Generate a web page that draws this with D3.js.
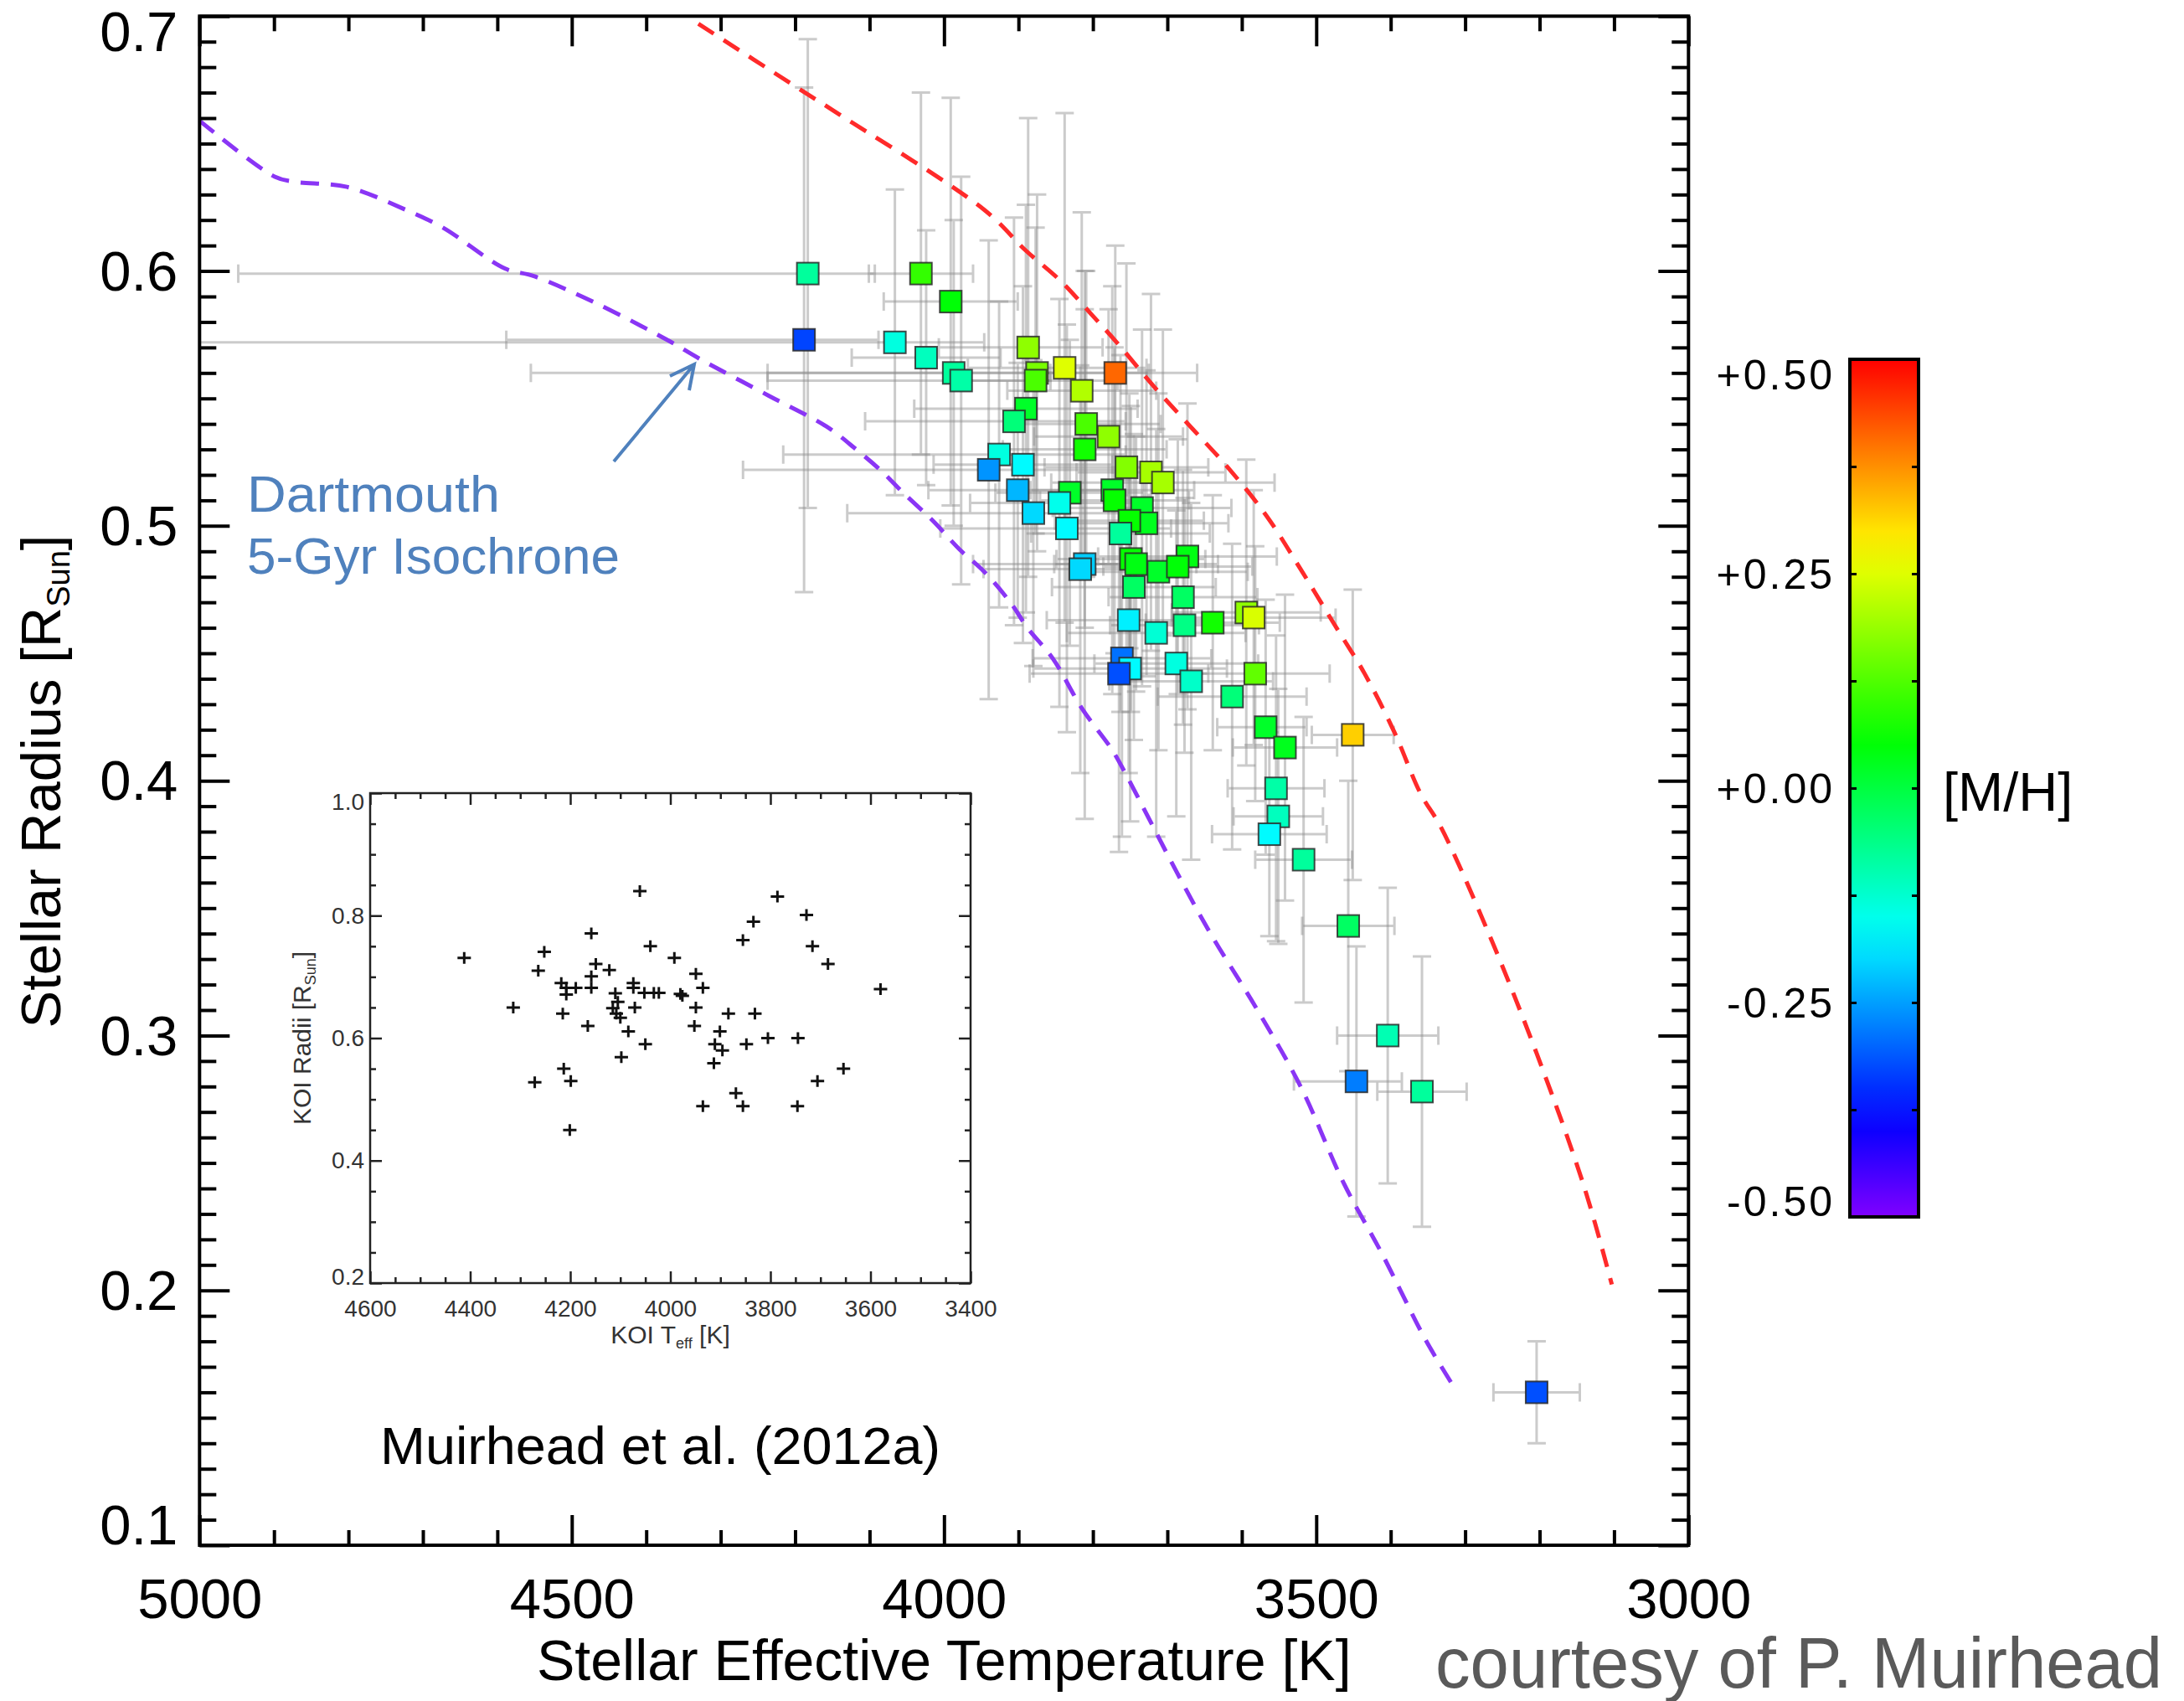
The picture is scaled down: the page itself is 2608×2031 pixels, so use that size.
<!DOCTYPE html>
<html>
<head>
<meta charset="utf-8">
<title>Stellar radius vs effective temperature</title>
<script src="https://cdn.jsdelivr.net/npm/d3@7"></script>
<style>
  body { margin: 0; background: #fff; }
  svg text { font-family: "Liberation Sans", Arial, Helvetica, sans-serif; }
</style>
</head>
<body>
<svg id="chart" width="2608" height="2031"></svg>
<script>
// ---- data ----
const teff = [4183, 4031, 3991, 4188, 4066, 4024, 3987, 3977, 3887, 3875,
              3877, 3838, 3815, 3770, 3890, 3906, 3809, 3779, 3811, 3926,
              3940, 3894, 3755, 3722, 3706, 3901, 3831, 3845, 3774, 3771,
              3880, 3734, 3728, 3751, 3763, 3835, 3811, 3817, 3749, 3742,
              3712, 3673, 3686, 3745, 3679, 3752, 3715, 3677, 3639, 3594,
              3584, 3761, 3750, 3765, 3688, 3668, 3582, 3613, 3568, 3542,
              3451, 3554, 3551, 3563, 3517, 3457, 3404, 3446, 3358, 3204];
const radius = [0.599, 0.599, 0.588, 0.573, 0.572, 0.566, 0.560, 0.557, 0.570, 0.560,
                0.557, 0.562, 0.553, 0.560, 0.546, 0.541, 0.540, 0.535, 0.530, 0.528,
                0.522, 0.524, 0.523, 0.521, 0.517, 0.514, 0.513, 0.509, 0.514, 0.510,
                0.505, 0.507, 0.501, 0.502, 0.497, 0.499, 0.485, 0.483, 0.487, 0.485,
                0.482, 0.488, 0.484, 0.476, 0.472, 0.463, 0.458, 0.461, 0.462, 0.466,
                0.464, 0.448, 0.444, 0.442, 0.446, 0.439, 0.442, 0.433, 0.421, 0.413,
                0.418, 0.397, 0.386, 0.379, 0.369, 0.343, 0.300, 0.282, 0.278, 0.160];
const metal = [-0.08, 0.10, 0.05, -0.33, -0.14, -0.11, -0.08, -0.09, 0.18, 0.16,
               0.12, 0.25, 0.21, 0.41, 0.02, -0.05, 0.12, 0.18, 0.07, -0.14,
               -0.26, -0.17, 0.17, 0.20, 0.20, -0.23, 0.02, -0.15, 0.02, 0.06,
               -0.20, 0.02, 0.03, 0.06, -0.08, -0.17, -0.21, -0.20, 0.06, 0.04,
               0.02, 0.04, 0.05, -0.03, -0.03, -0.18, -0.13, -0.06, 0.07, 0.18,
               0.245, -0.29, -0.17, -0.32, -0.14, -0.12, 0.14, -0.05, 0.02, 0.03,
               0.32, -0.09, -0.11, -0.17, -0.08, -0.03, -0.10, -0.28, -0.08, -0.32];
const teffErrHot = [765, 70, 90, 400, 1000, 100, 250, 260, 120, 680,
                    110, 130, 100, 110, 150, 200, 100, 100, 110, 290,
                    330, 120, 110, 100, 150, 120, 100, 120, 110, 100,
                    250, 120, 110, 100, 120, 170, 150, 130, 100, 110,
                    120, 120, 100, 110, 100, 110, 120, 100, 90, 100,
                    110, 120, 130, 120, 110, 110, 100, 100, 65, 70,
                    55, 65, 60, 77, 65, 62, 68, 84, 60, 58];
const teffErrCool = [90, 70, 90, 100, 120, 100, 130, 120, 100, 150,
                     110, 110, 100, 110, 150, 150, 100, 100, 110, 170,
                     200, 120, 110, 100, 150, 120, 100, 120, 110, 100,
                     150, 120, 110, 100, 120, 140, 150, 130, 100, 110,
                     120, 120, 100, 110, 100, 110, 120, 100, 90, 100,
                     110, 120, 130, 120, 110, 110, 100, 100, 55, 70,
                     55, 65, 60, 77, 65, 62, 68, 61, 60, 58];
const radiusErr = [0.092, 0.071, 0.08, 0.099, 0.06, 0.05, 0.06, 0.08, 0.09, 0.07,
                   0.06, 0.10, 0.07, 0.05, 0.08, 0.08, 0.06, 0.05, 0.07, 0.06,
                   0.09, 0.07, 0.08, 0.07, 0.06, 0.05, 0.06, 0.08, 0.08, 0.06,
                   0.06, 0.07, 0.06, 0.05, 0.07, 0.08, 0.10, 0.08, 0.06, 0.05,
                   0.07, 0.06, 0.05, 0.06, 0.05, 0.06, 0.08, 0.05, 0.05, 0.06,
                   0.05, 0.07, 0.06, 0.07, 0.06, 0.07, 0.05, 0.06, 0.05, 0.06,
                   0.057, 0.06, 0.05, 0.04, 0.056, 0.057, 0.058, 0.053, 0.053, 0.02];

// Dartmouth 5-Gyr isochrones: [M/H] = -0.5 (violet) and +0.5 (red)
const isoPoorTeff = [5000, 4899, 4873, 4802, 4723, 4673, 4590, 4551, 4472, 4372, 4328,
                     4235, 4158, 4118, 4084, 4055, 4015, 3980, 3946, 3911, 3888, 3854,
                     3814, 3774, 3753, 3689, 3643, 3579, 3521, 3463, 3411, 3353, 3316];
const isoPoorRad = [0.659, 0.637, 0.635, 0.633, 0.624, 0.617, 0.601, 0.598, 0.588, 0.573, 0.5655,
                    0.551, 0.539, 0.530, 0.5215, 0.513, 0.502, 0.491, 0.482, 0.470, 0.460, 0.448,
                    0.428, 0.412, 0.401, 0.365, 0.3405, 0.310, 0.280, 0.242, 0.214, 0.1805, 0.1625];
const isoRichTeff = [4330, 4192, 4149, 3946, 3890, 3843, 3802, 3768, 3716, 3666, 3619,
                     3567, 3521, 3475, 3435, 3395, 3360, 3333, 3269, 3204, 3140, 3103];
const isoRichRad = [0.697, 0.671, 0.663, 0.624, 0.608, 0.596, 0.583, 0.572, 0.554, 0.538, 0.523,
                    0.504, 0.483, 0.461, 0.442, 0.419, 0.395, 0.382, 0.3405, 0.293, 0.2405, 0.2023];

// inset: KOI catalogue values
const koiTeff = [4412, 4314, 4271, 4264, 4252, 4218, 4215, 4213, 4208, 4208,
                 4199, 4201, 4189, 4165, 4158, 4158, 4158, 4149, 4122, 4115,
                 4110, 4105, 4108, 4100, 4098, 4084, 4074, 4071, 4074, 4061,
                 4052, 4050, 4040, 4033, 4023, 3992, 3980, 3976, 3949, 3949,
                 3952, 3935, 3935, 3913, 3911, 3901, 3896, 3884, 3869, 3855,
                 3855, 3848, 3834, 3831, 3805, 3786, 3745, 3746, 3728, 3716,
                 3706, 3685, 3654, 3580];
const koiRad = [0.731, 0.650, 0.528, 0.710, 0.741, 0.690, 0.640, 0.550, 0.682, 0.671,
                0.530, 0.450, 0.682, 0.620, 0.771, 0.701, 0.682, 0.721, 0.711, 0.649,
                0.673, 0.659, 0.640, 0.633, 0.569, 0.611, 0.690, 0.650, 0.682, 0.840,
                0.674, 0.590, 0.750, 0.674, 0.674, 0.731, 0.672, 0.669, 0.705, 0.650,
                0.620, 0.682, 0.489, 0.559, 0.590, 0.611, 0.580, 0.640, 0.510, 0.760,
                0.489, 0.590, 0.790, 0.640, 0.600, 0.831, 0.600, 0.489, 0.801, 0.750,
                0.530, 0.721, 0.550, 0.680];

const xMajor = [5000, 4500, 4000, 3500, 3000];
const yMajor = [0.1, 0.2, 0.3, 0.4, 0.5, 0.6, 0.7];
const cbarLabels = [0.5, 0.25, 0.0, -0.25, -0.5];
const cbarTicks = [0.5, 0.375, 0.25, 0.125, 0.0, -0.125, -0.25, -0.375, -0.5];
const insetXMajor = [4600, 4400, 4200, 4000, 3800, 3600, 3400];
const insetYMajor = [0.2, 0.4, 0.6, 0.8, 1.0];

// ---- drawing ----
const svg = d3.select("#chart");
const L = 238.3, R = 2016.3, T = 19.3, B = 1845;

const x = d3.scaleLinear().domain([5000, 3000]).range([L, R]);
const y = d3.scaleLinear().domain([0.1, 0.7]).range([B, T]);
const hue = d3.scaleLinear().domain([-0.5, 0.5]).range([270, 0]);
const metalColor = v => d3.hsl(hue(v), 1, 0.5).formatHex();

const pts = teff.map((t, i) => ({
  t, r: radius[i], m: metal[i],
  th: teffErrHot[i], tc: teffErrCool[i], re: radiusErr[i]
}));

// error bars
const eb = svg.append("g").attr("stroke", "#8c8c8c").attr("stroke-opacity", 0.45)
  .attr("stroke-width", 3).attr("fill", "none");
const cap = 11;
pts.forEach(d => {
  const cx = x(d.t), cy = y(d.r);
  const x0 = x(Math.min(d.t + d.th, 5000)), x1 = x(d.t - d.tc);
  const y0 = y(Math.min(d.r + d.re, 0.7)), y1 = y(d.r - d.re);
  let p = `M${x0},${cy}H${x1}M${x1},${cy - cap}V${cy + cap}M${cx},${y0}V${y1}M${cx - cap},${y1}H${cx + cap}`;
  if (d.t + d.th <= 5000) p += `M${x0},${cy - cap}V${cy + cap}`;
  if (d.r + d.re <= 0.7) p += `M${cx - cap},${y0}H${cx + cap}`;
  eb.append("path").attr("d", p);
});

// isochrones
const line = d3.line().x(d => x(d[0])).y(d => y(d[1])).curve(d3.curveCatmullRom);
svg.append("path").datum(isoPoorTeff.map((t, i) => [t, isoPoorRad[i]]))
  .attr("d", line).attr("fill", "none").attr("stroke", "#8a35f5")
  .attr("stroke-width", 5).attr("stroke-dasharray", "22 14");
svg.append("path").datum(isoRichTeff.map((t, i) => [t, isoRichRad[i]]))
  .attr("d", line).attr("fill", "none").attr("stroke", "#ff2a2a")
  .attr("stroke-width", 5).attr("stroke-dasharray", "22 14");

// squares
const sq = 26;
svg.append("g").selectAll("rect").data(pts).join("rect")
  .attr("x", d => x(d.t) - sq / 2).attr("y", d => y(d.r) - sq / 2)
  .attr("width", sq).attr("height", sq)
  .attr("fill", d => metalColor(d.m))
  .attr("stroke", "#2a2a2a").attr("stroke-width", 2).attr("stroke-opacity", 0.85);

// axes (IDL style: ticks inward on all four sides)
function styleAxis(g) {
  g.select(".domain").remove();
  g.selectAll(".tick line").attr("stroke", "#000").attr("stroke-width", 4);
  g.selectAll("text").attr("fill", "#000").attr("font-size", 67);
}
const xMinor = d3.range(3000, 5001, 100).filter(v => !xMajor.includes(v));
const yMinor = d3.range(10, 71).map(v => v / 100).filter(v => v * 10 % 1 !== 0);

svg.append("g").attr("transform", `translate(0,${B})`)
  .call(d3.axisBottom(x).tickValues(xMajor).tickSize(-36).tickPadding(39).tickFormat(d3.format("d")))
  .call(styleAxis);
svg.append("g").attr("transform", `translate(0,${B})`)
  .call(d3.axisBottom(x).tickValues(xMinor).tickSize(-18).tickFormat("")).call(styleAxis);
svg.append("g").attr("transform", `translate(0,${T})`)
  .call(d3.axisTop(x).tickValues(xMajor).tickSize(-36).tickFormat("")).call(styleAxis);
svg.append("g").attr("transform", `translate(0,${T})`)
  .call(d3.axisTop(x).tickValues(xMinor).tickSize(-18).tickFormat("")).call(styleAxis);

const yAx = svg.append("g").attr("transform", `translate(${L},0)`)
  .call(d3.axisLeft(y).tickValues(yMajor).tickSize(-36).tickPadding(26).tickFormat(d3.format(".1f")))
  .call(styleAxis);
yAx.selectAll(".tick text").attr("dy", d => d === 0.7 ? "0.62em" : d === 0.1 ? "-0.02em" : "0.34em");
svg.append("g").attr("transform", `translate(${L},0)`)
  .call(d3.axisLeft(y).tickValues(yMinor).tickSize(-20).tickFormat("")).call(styleAxis);
svg.append("g").attr("transform", `translate(${R},0)`)
  .call(d3.axisRight(y).tickValues(yMajor).tickSize(-36).tickFormat("")).call(styleAxis);
svg.append("g").attr("transform", `translate(${R},0)`)
  .call(d3.axisRight(y).tickValues(yMinor).tickSize(-20).tickFormat("")).call(styleAxis);

svg.append("rect").attr("x", L).attr("y", T).attr("width", R - L).attr("height", B - T)
  .attr("fill", "none").attr("stroke", "#000").attr("stroke-width", 4);

// axis titles
svg.append("text").attr("x", (L + R) / 2).attr("y", 2006).attr("text-anchor", "middle")
  .attr("font-size", 68).text("Stellar Effective Temperature [K]");
const yt = svg.append("text").attr("transform", "translate(72,933) rotate(-90)")
  .attr("text-anchor", "middle").attr("font-size", 67);
yt.append("tspan").text("Stellar Radius [R");
yt.append("tspan").attr("font-size", 38).attr("dy", 11).text("Sun");
yt.append("tspan").attr("dy", -11).text("]");

// ---- inset ----
const iL = 442, iR = 1159, iT = 947, iB = 1532;
const ix = d3.scaleLinear().domain([4600, 3400]).range([iL, iR]);
const iy = d3.scaleLinear().domain([0.2, 1.0]).range([iB, iT]);
svg.append("rect").attr("x", iL).attr("y", iT).attr("width", iR - iL).attr("height", iB - iT)
  .attr("fill", "#fff");
function styleInset(g) {
  g.select(".domain").remove();
  g.selectAll(".tick line").attr("stroke", "#222").attr("stroke-width", 2.5);
  g.selectAll("text").attr("fill", "#333").attr("font-size", 28);
}
const ixMinor = d3.range(3400, 4601, 50).filter(v => !insetXMajor.includes(v));
const iyMinor = d3.range(20, 101, 5).map(v => v / 100).filter(v => !insetYMajor.some(m => Math.abs(m - v) < 1e-6));
svg.append("g").attr("transform", `translate(0,${iB})`)
  .call(d3.axisBottom(ix).tickValues(insetXMajor).tickSize(-14).tickPadding(20).tickFormat(d3.format("d")))
  .call(styleInset);
svg.append("g").attr("transform", `translate(0,${iB})`)
  .call(d3.axisBottom(ix).tickValues(ixMinor).tickSize(-7).tickFormat("")).call(styleInset);
svg.append("g").attr("transform", `translate(0,${iT})`)
  .call(d3.axisTop(ix).tickValues(insetXMajor).tickSize(-14).tickFormat("")).call(styleInset);
svg.append("g").attr("transform", `translate(0,${iT})`)
  .call(d3.axisTop(ix).tickValues(ixMinor).tickSize(-7).tickFormat("")).call(styleInset);
const iyAx = svg.append("g").attr("transform", `translate(${iL},0)`)
  .call(d3.axisLeft(iy).tickValues(insetYMajor).tickSize(-14).tickPadding(7).tickFormat(d3.format(".1f")))
  .call(styleInset);
iyAx.selectAll(".tick text").attr("dy", d => d === 1.0 ? "0.7em" : d === 0.2 ? "0.05em" : "0.32em");
svg.append("g").attr("transform", `translate(${iL},0)`)
  .call(d3.axisLeft(iy).tickValues(iyMinor).tickSize(-7).tickFormat("")).call(styleInset);
svg.append("g").attr("transform", `translate(${iR},0)`)
  .call(d3.axisRight(iy).tickValues(insetYMajor).tickSize(-14).tickFormat("")).call(styleInset);
svg.append("g").attr("transform", `translate(${iR},0)`)
  .call(d3.axisRight(iy).tickValues(iyMinor).tickSize(-7).tickFormat("")).call(styleInset);
svg.append("rect").attr("x", iL).attr("y", iT).attr("width", iR - iL).attr("height", iB - iT)
  .attr("fill", "none").attr("stroke", "#222").attr("stroke-width", 2.5);

svg.append("g").selectAll("path").data(koiTeff.map((t, i) => [t, koiRad[i]])).join("path")
  .attr("d", d => `M${ix(d[0]) - 8},${iy(d[1])}h16M${ix(d[0])},${iy(d[1]) - 7}v14`)
  .attr("stroke", "#111").attr("stroke-width", 3);

const ixt = svg.append("text").attr("x", (iL + iR) / 2).attr("y", 1604).attr("text-anchor", "middle")
  .attr("font-size", 30).attr("fill", "#333");
ixt.append("tspan").text("KOI T");
ixt.append("tspan").attr("font-size", 18).attr("dy", 6).text("eff");
ixt.append("tspan").attr("dy", -6).text(" [K]");
const iyt = svg.append("text").attr("transform", `translate(371,${(iT + iB) / 2}) rotate(-90)`)
  .attr("text-anchor", "middle").attr("font-size", 30).attr("fill", "#333");
iyt.append("tspan").text("KOI Radii [R");
iyt.append("tspan").attr("font-size", 18).attr("dy", 6).text("Sun");
iyt.append("tspan").attr("dy", -6).text("]");

// ---- colour bar ----
const cL = 2209, cR = 2291, cT = 429, cB = 1453;
const cy = d3.scaleLinear().domain([-0.5, 0.5]).range([cB, cT]);
const grad = svg.append("defs").append("linearGradient").attr("id", "mh")
  .attr("x1", 0).attr("y1", 1).attr("x2", 0).attr("y2", 0);
d3.range(0, 1.0001, 0.05).forEach(f => {
  grad.append("stop").attr("offset", f).attr("stop-color", metalColor(f - 0.5));
});
svg.append("rect").attr("x", cL).attr("y", cT).attr("width", cR - cL).attr("height", cB - cT)
  .attr("fill", "url(#mh)");
svg.append("g").attr("transform", `translate(${cL},0)`)
  .call(d3.axisLeft(cy).tickValues(cbarTicks).tickSize(-8).tickFormat(""))
  .call(g => { g.select(".domain").remove(); g.selectAll("line").attr("stroke", "#000").attr("stroke-width", 3); });
svg.append("g").attr("transform", `translate(${cR},0)`)
  .call(d3.axisRight(cy).tickValues(cbarTicks).tickSize(-8).tickFormat(""))
  .call(g => { g.select(".domain").remove(); g.selectAll("line").attr("stroke", "#000").attr("stroke-width", 3); });
svg.append("rect").attr("x", cL).attr("y", cT).attr("width", cR - cL).attr("height", cB - cT)
  .attr("fill", "none").attr("stroke", "#000").attr("stroke-width", 4);
const fmtMH = v => (v >= 0 ? "+" : "-") + Math.abs(v).toFixed(2);
svg.append("g").selectAll("text").data(cbarLabels).join("text")
  .attr("x", 2191).attr("y", d => Math.min(Math.max(cy(d), cT + 18), cB - 19))
  .attr("dy", "0.36em").attr("text-anchor", "end").attr("font-size", 50)
  .attr("letter-spacing", 3).text(fmtMH);
svg.append("text").attr("x", 2320).attr("y", 945).attr("dy", "0.36em")
  .attr("font-size", 65).text("[M/H]");

// ---- annotations ----
const blue = "#4f81bd";
svg.append("text").attr("x", 295).attr("y", 611).attr("font-size", 62).attr("fill", blue)
  .attr("font-family", "'DejaVu Sans Condensed', 'Noto Sans', sans-serif")
  .attr("textLength", 302).attr("lengthAdjust", "spacingAndGlyphs").text("Dartmouth");
svg.append("text").attr("x", 295).attr("y", 685).attr("font-size", 62).attr("fill", blue)
  .attr("font-family", "'DejaVu Sans Condensed', 'Noto Sans', sans-serif")
  .attr("textLength", 445).attr("lengthAdjust", "spacingAndGlyphs").text("5-Gyr Isochrone");
svg.append("path").attr("d", "M733,551L829,435M800,449L829,435L823,466")
  .attr("fill", "none").attr("stroke", blue).attr("stroke-width", 4).attr("stroke-linejoin", "miter");

svg.append("text").attr("x", 454).attr("y", 1748).attr("font-size", 63).attr("fill", "#000")
  .attr("font-family", "'DejaVu Sans Condensed', 'Noto Sans', sans-serif")
  .attr("textLength", 669).attr("lengthAdjust", "spacingAndGlyphs").text("Muirhead et al. (2012a)");

svg.append("text").attr("x", 1714).attr("y", 2015).attr("font-size", 86).attr("fill", "#5a5a5a")
  .attr("font-family", "Lato, 'Open Sans', sans-serif").attr("font-weight", 300)
  .attr("textLength", 868).attr("lengthAdjust", "spacingAndGlyphs").text("courtesy of P. Muirhead");
</script>
</body>
</html>
